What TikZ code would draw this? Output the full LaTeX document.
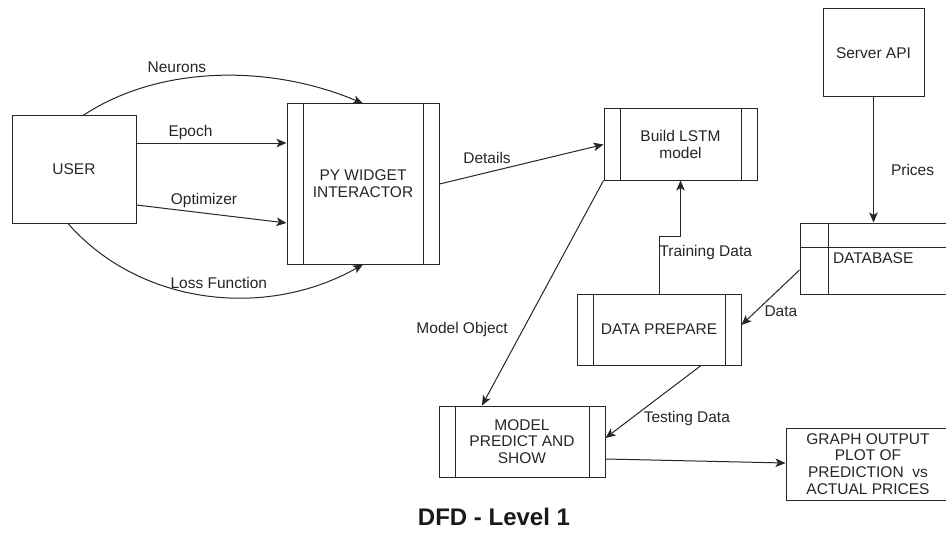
\documentclass[tikz,border=0pt]{standalone}
\usepackage{fontspec}
\setmainfont{Liberation Sans}
\usepackage{xcolor}
\usepackage{tikz}
\usetikzlibrary{arrows.meta, positioning, calc}

\begin{document}
\begin{tikzpicture}[
    x=1pt, y=-1pt,
    font=\fontsize{15.5pt}{16.7pt}\selectfont,
    text=black!85,
    ext/.style={rectangle, draw=black!85, line width=1pt, align=center},
    proc/.style={rectangle, draw=black!85, line width=1pt, align=center,
               path picture={
                 \draw[line width=1pt, black!85]
                   ([xshift=16pt]path picture bounding box.north west) --
                   ([xshift=16pt]path picture bounding box.south west)
                   ([xshift=-16pt]path picture bounding box.north east) --
                   ([xshift=-16pt]path picture bounding box.south east);}},
    store/.style={rectangle, draw=black!85, line width=1pt,
               path picture={
                 \draw[line width=1pt, black!85]
                   ([xshift=28pt]path picture bounding box.north west) --
                   ([xshift=28pt]path picture bounding box.south west)
                   ([yshift=-24pt]path picture bounding box.north west) --
                   ([yshift=-24pt]path picture bounding box.north east);}},
    arr/.style={-{Stealth[length=10pt, width=8.5pt, inset=2.5pt]}, line width=1pt, black!85},
    lbl/.style={inner sep=0pt}
  ]

  \path[use as bounding box, fill=white] (0,0) rectangle (946,535);

  % entities and processes
  \node[ext, minimum width=124pt, minimum height=107pt] (user) at (74,169.5) {USER};
  \node[proc, minimum width=152pt, minimum height=160pt] (pyw) at (363,184) {PY WIDGET\\INTERACTOR};
  \node[proc, minimum width=153pt, minimum height=71pt] (lstm) at (680.5,144.5) {Build LSTM\\model};
  \node[ext, minimum width=101pt, minimum height=88pt] (api) at (873.5,53) {Server API};
  \node[store, minimum width=162pt, minimum height=71pt,
        text width=96pt, align=left] (db) at (881,258.5) {DATABASE};
  \node[proc, minimum width=164pt, minimum height=71pt] (prep) at (659,329.5) {DATA PREPARE};
  \node[proc, minimum width=166pt, minimum height=71pt] (pred) at (522,441.5) {MODEL\\PREDICT AND\\SHOW};
  \node[ext, minimum width=164pt, minimum height=72pt] (graph) at (868,464)
    {GRAPH OUTPUT\\PLOT OF\\PREDICTION\ \ vs\\ACTUAL PRICES};

  % user inputs
  \draw[arr] ([xshift=9pt]user.north) .. controls +(77,-51) and +(-92,-39) .. (pyw.north)
    node[pos=0.36, above=7pt, lbl] {Neurons};
  \draw[arr] ([yshift=26.5pt]user.east) -- ([yshift=41pt]pyw.west)
    node[pos=0.36, above=3pt, lbl] {Epoch};
  \draw[arr] ([yshift=-35.5pt]user.east) -- ([yshift=-39pt]pyw.west)
    node[pos=0.45, above=5pt, lbl] {Optimizer};
  \draw[arr] ([xshift=-6pt]user.south) .. controls +(72,82) and +(-97,55) .. (pyw.south)
    node[pos=0.54, above=8pt, lbl] {Loss Function};

  % model flow
  \draw[arr] (pyw.east) -- (lstm.west)
    node[pos=0.29, above=8pt, lbl] {Details};
  \draw[arr] (api.south) -- (api.south |- db.north)
    node[pos=0.58, right=17pt, lbl] {Prices};
  \draw[arr] (prep.north) -- ++(0,-57)
    node[pos=0.72, right=0pt, lbl] {Training Data} -| (lstm.south);
  \draw[arr] ([yshift=-11.5pt]db.west) -- ([yshift=4.5pt]prep.east)
    node[pos=0.75, right=8pt, lbl] {Data};
  \draw[arr] (lstm.south west) -- ([xshift=-40pt]pred.north)
    node[pos=0.66, left=15pt, lbl] {Model Object};
  \draw[arr] ([xshift=42pt]prep.south) -- ([yshift=3.5pt]pred.east)
    node[pos=0.73, right=12pt, lbl] {Testing Data};
  \draw[arr] ([yshift=-17.5pt]pred.east) -- ([yshift=1pt]graph.west);

  \node[font=\fontsize{24pt}{26pt}\selectfont\bfseries, text=black!90] (title) at (494,517) {DFD - Level 1};

\end{tikzpicture}
\end{document}
